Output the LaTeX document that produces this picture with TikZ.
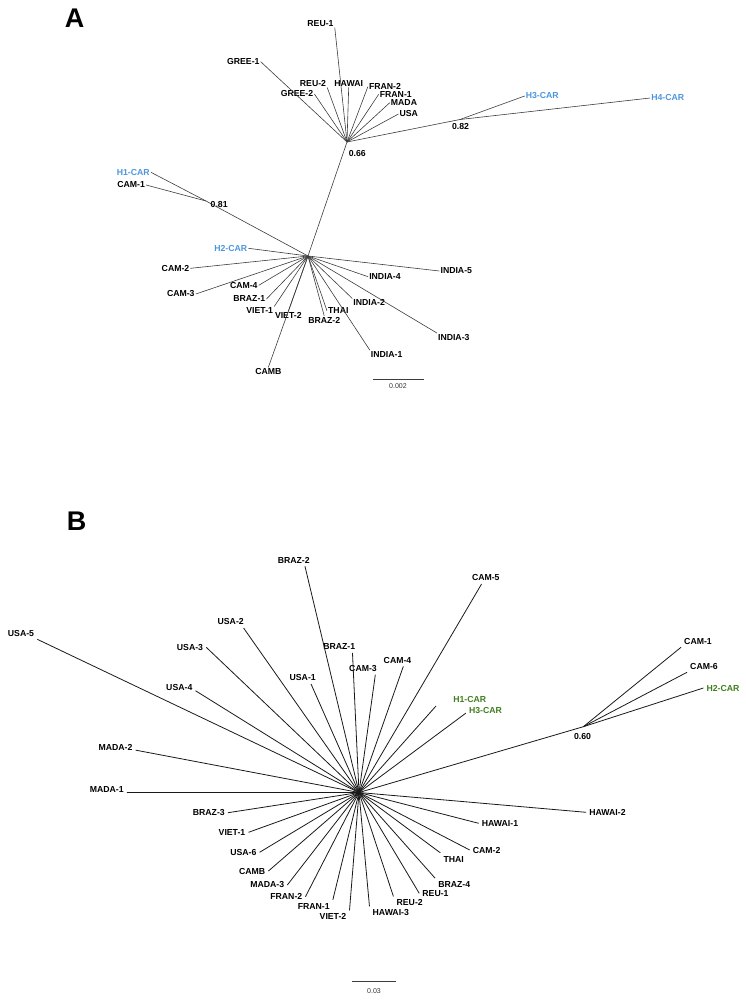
\documentclass[tikz,border=0pt]{standalone}
\usepackage{fontspec}
\setmainfont{Liberation Sans}
\definecolor{carblue}{RGB}{74,150,222}
\definecolor{cargreen}{RGB}{64,125,30}
\definecolor{edgegray}{RGB}{60,60,60}
\tikzset{
  lab/.style={font=\bfseries\fontsize{8.7}{10}\selectfont, inner sep=1pt},
  labB/.style={lab, inner sep=3pt},
  bluelab/.style={lab, text=carblue},
  greenlab/.style={labB, text=cargreen},
  edgeA/.style={draw=edgegray, line width=0.6pt},
  edgeB/.style={draw=black!90, line width=0.8pt},
  scalebar/.style={draw=edgegray, line width=0.7pt},
  scaletext/.style={font=\fontsize{7}{8}\selectfont, text=black!80, inner sep=1pt},
  panel/.style={font=\bfseries\fontsize{27}{30}\selectfont, inner sep=0pt}
}
\begin{document}
\begin{tikzpicture}[x=1pt,y=-1pt]
\useasboundingbox (0,0) rectangle (746,1002);
% ---------------- Panel A ----------------
\node[panel] (pA) at (74.5,18.5) {A};
\coordinate (U1) at (347,142);
\coordinate (L1) at (308,256);
\coordinate (N82) at (460,119.5);
\coordinate (N81) at (206,201);
\node[lab] (b066) at (357.3,153.3) {0.66};
\node[lab] (b082) at (460.5,126.7) {0.82};
\node[lab] (b081) at (219.2,204.3) {0.81};
% upper cluster leaves
\node[lab] (reu1) at (320.5,23.3) {REU-1};
\node[lab] (gree1) at (243.3,61.7) {GREE-1};
\node[lab] (reu2) at (313,83.3) {REU-2};
\node[lab] (gree2) at (297,94) {GREE-2};
\node[lab] (hawai) at (348.7,83.3) {HAWAI};
\node[lab] (fran2) at (385,86.7) {FRAN-2};
\node[lab] (fran1) at (395.8,94.3) {FRAN-1};
\node[lab] (mada) at (404,102.7) {MADA};
\node[lab] (usa) at (408.8,114) {USA};
\node[bluelab] (h3car) at (542.3,96) {H3-CAR};
\node[bluelab] (h4car) at (667.8,98) {H4-CAR};
% lower cluster leaves
\node[bluelab] (h1car) at (133.3,172.3) {H1-CAR};
\node[lab] (cam1) at (131.2,185) {CAM-1};
\node[bluelab] (h2car) at (230.8,248.3) {H2-CAR};
\node[lab] (cam2) at (175.5,268.3) {CAM-2};
\node[lab] (cam3) at (180.8,294) {CAM-3};
\node[lab] (cam4) at (243.8,285.3) {CAM-4};
\node[lab] (braz1) at (249.3,299) {BRAZ-1};
\node[lab] (viet1) at (259.7,310.7) {VIET-1};
\node[lab] (viet2) at (288.3,315.7) {VIET-2};
\node[lab] (camb) at (268.3,371.7) {CAMB};
\node[lab] (braz2) at (324.2,320) {BRAZ-2};
\node[lab] (thai) at (338.3,310.7) {THAI};
\node[lab] (india1) at (386.7,354.3) {INDIA-1};
\node[lab] (india2) at (369.2,302.7) {INDIA-2};
\node[lab] (india3) at (453.8,337.3) {INDIA-3};
\node[lab] (india4) at (385,276.7) {INDIA-4};
\node[lab] (india5) at (456.3,271) {INDIA-5};
% edges A
\draw[edgeA] (L1) -- (U1);
\draw[edgeA] (U1) -- (N82);
\draw[edgeA] (L1) -- (N81);
\draw[edgeA] (U1) -- (reu1.south east);
\draw[edgeA] (U1) -- (gree1.east);
\draw[edgeA] (U1) -- (reu2.south east);
\draw[edgeA] (U1) -- (gree2.east);
\draw[edgeA] (U1) -- (hawai.south);
\draw[edgeA] (U1) -- (fran2.west);
\draw[edgeA] (U1) -- (fran1.west);
\draw[edgeA] (U1) -- (mada.west);
\draw[edgeA] (U1) -- (usa.west);
\draw[edgeA] (N82) -- (h3car.west);
\draw[edgeA] (N82) -- (h4car.west);
\draw[edgeA] (N81) -- (h1car.east);
\draw[edgeA] (N81) -- (cam1.east);
\draw[edgeA] (L1) -- (h2car.east);
\draw[edgeA] (L1) -- (cam2.east);
\draw[edgeA] (L1) -- (cam3.east);
\draw[edgeA] (L1) -- (cam4.east);
\draw[edgeA] (L1) -- (braz1.east);
\draw[edgeA] (L1) -- (viet1.north east);
\draw[edgeA] (L1) -- (viet2.north);
\draw[edgeA] (L1) -- (camb.north);
\draw[edgeA] (L1) -- (braz2.north);
\draw[edgeA] (L1) -- (thai.west);
\draw[edgeA] (L1) -- (india1.north west);
\draw[edgeA] (L1) -- (india2.north west);
\draw[edgeA] (L1) -- (india3.north west);
\draw[edgeA] (L1) -- (india4.west);
\draw[edgeA] (L1) -- (india5.west);
% scale A
\coordinate (sa1) at (372.5,379.3);
\coordinate (sa2) at (424,379.3);
\draw[scalebar] (sa1) -- (sa2);
\node[scaletext] (sAt) at (398,386) {0.002};
% ---------------- Panel B ----------------
\node[panel] (pB) at (76.7,521.7) {B};
\coordinate (C) at (359,792.5);
\coordinate (N60) at (583.3,726.7);
\node[lab] (b060) at (582.5,736) {0.60};
\node[labB] (brazb2) at (293.7,560) {BRAZ-2};
\node[labB] (usab2) at (230.7,621.7) {USA-2};
\node[labB] (usab3) at (190,647.3) {USA-3};
\node[labB] (usab4) at (179.3,687.3) {USA-4};
\node[labB] (usab5) at (21,633) {USA-5};
\node[labB] (usab1) at (302.7,677.7) {USA-1};
\node[labB] (brazb1) at (339.2,646.7) {BRAZ-1};
\node[labB] (camb3) at (363,668.3) {CAM-3};
\node[labB] (camb4) at (397.5,660) {CAM-4};
\node[labB] (camb5) at (485.8,577.7) {CAM-5};
\node[greenlab] (h1b) at (469.7,699.3) {H1-CAR};
\coordinate (h1e) at (436,706);
\node[greenlab] (h3b) at (485.5,710.7) {H3-CAR};
\node[labB] (camb1) at (698,641) {CAM-1};
\node[labB] (camb6) at (704,666) {CAM-6};
\node[greenlab] (h2b) at (723,688) {H2-CAR};
\node[labB] (hawb2) at (607.5,812.3) {HAWAI-2};
\node[labB] (hawb1) at (500,823.3) {HAWAI-1};
\node[labB] (camb2) at (486.7,850) {CAM-2};
\node[labB] (thaib) at (453.7,859) {THAI};
\node[labB] (brazb4) at (454.2,884.3) {BRAZ-4};
\node[labB] (reub1) at (435.5,893.3) {REU-1};
\node[labB] (reub2) at (409.7,902.7) {REU-2};
\node[labB] (hawb3) at (390.8,912.7) {HAWAI-3};
\node[labB] (vietb2) at (333,916.7) {VIET-2};
\node[labB] (franb1) at (313.7,906) {FRAN-1};
\node[labB] (franb2) at (286.3,896.7) {FRAN-2};
\node[labB] (madab3) at (267.2,885) {MADA-3};
\node[labB] (cambb) at (252.2,871) {CAMB};
\node[labB] (usab6) at (243.3,852.3) {USA-6};
\node[labB] (vietb1) at (232,832.3) {VIET-1};
\node[labB] (brazb3) at (208.8,812.7) {BRAZ-3};
\node[labB] (madab1) at (106.7,789) {MADA-1};
\node[labB] (madab2) at (115.5,747.3) {MADA-2};
% edges B
\draw[edgeB] (C) -- (brazb2.-29);
\draw[edgeB] (C) -- (usab2.-26);
\draw[edgeB] (C) -- (usab3.east);
\draw[edgeB] (C) -- (usab4.-12);
\draw[edgeB] (C) -- (usab5.south east);
\draw[edgeB] (C) -- (usab1.-37);
\draw[edgeB] (C) -- (brazb1.-25);
\draw[edgeB] (C) -- (camb3.-27);
\draw[edgeB] (C) -- (camb4.-47);
\draw[edgeB] (C) -- (camb5.-124);
\draw[edgeB] (C) -- (h1e);
\draw[edgeB] (C) -- (h3b.-173);
\draw[edgeB] (C) -- (N60);
\draw[edgeB] (N60) -- (camb1.south west);
\draw[edgeB] (N60) -- (camb6.south west);
\draw[edgeB] (N60) -- (h2b.west);
\draw[edgeB] (C) -- (hawb2.west);
\draw[edgeB] (C) -- (hawb1.west);
\draw[edgeB] (C) -- (camb2.west);
\draw[edgeB] (C) -- (thaib.north west);
\draw[edgeB] (C) -- (brazb4.north west);
\draw[edgeB] (C) -- (reub1.west);
\draw[edgeB] (C) -- (reub2.north west);
\draw[edgeB] (C) -- (hawb3.north west);
\draw[edgeB] (C) -- (vietb2.north east);
\draw[edgeB] (C) -- (franb1.north east);
\draw[edgeB] (C) -- (franb2.east);
\draw[edgeB] (C) -- (madab3.east);
\draw[edgeB] (C) -- (cambb.east);
\draw[edgeB] (C) -- (usab6.east);
\draw[edgeB] (C) -- (vietb1.east);
\draw[edgeB] (C) -- (brazb3.east);
\draw[edgeB] (C) -- (madab1.-10);
\draw[edgeB] (C) -- (madab2.-8);
% scale B
\coordinate (sb1) at (352.3,981.7);
\coordinate (sb2) at (396,981.7);
\draw[scalebar] (sb1) -- (sb2);
\node[scaletext] (sBt) at (374,991) {0.03};
\end{tikzpicture}
\end{document}
